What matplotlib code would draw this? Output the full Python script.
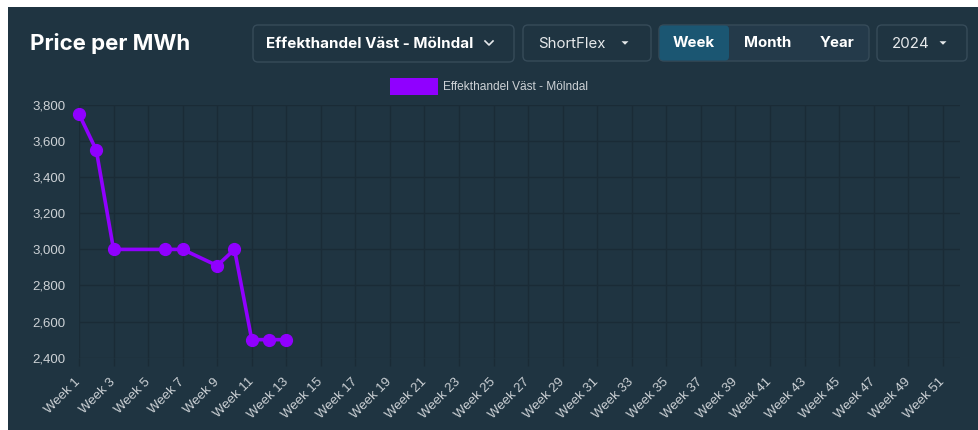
import numpy as np
import matplotlib
matplotlib.use("Agg")
import matplotlib.pyplot as plt
from matplotlib.patches import FancyBboxPatch, Rectangle, Polygon
from matplotlib.lines import Line2D

# ---- data ----
weeks = [f"Week {i}" for i in range(1, 53)]
data_weeks = [1, 2, 3, 6, 7, 9, 10, 11, 12, 13]
prices = [3750, 3550, 3000, 3000, 3000, 2910, 3000, 2500, 2500, 2500]
series_name = "Effekthandel Väst - Mölndal"
y_ticks = [2400, 2600, 2800, 3000, 3200, 3400, 3600, 3800]
title = "Price per MWh"
dropdown_site = "Effekthandel Väst - Mölndal"
dropdown_product = "ShortFlex"
periods = ["Week", "Month", "Year"]
year_label = "2024"

W, H = 979, 430
BG = "#1f3441"
GRID = "#1a2b36"
TXT = "#cdd2d6"
PURPLE = "#9000ff"

fig = plt.figure(figsize=(W / 100, H / 100), dpi=100)
fig.patch.set_facecolor("white")


def fx(x):
    return x / W


def fy(y):
    return 1 - y / H


# dark panel
fig.patches.append(Rectangle((fx(8), 0), 1 - fx(8), fy(7), transform=fig.transFigure,
                             facecolor=BG, edgecolor="none", zorder=-5))


def box(x0, y0, x1, y1, fc, ec, r=5):
    p = FancyBboxPatch((fx(x0), fy(y1)), fx(x1 - x0), fy(y0) - fy(y1),
                       boxstyle=f"round,pad=0,rounding_size={r / W}",
                       transform=fig.transFigure, facecolor=fc, edgecolor=ec,
                       linewidth=1, zorder=1, mutation_aspect=W / H)
    fig.patches.append(p)


def caret(cx, cy, s=3.5):
    pts = [(fx(cx - s), fy(cy - s / 2)), (fx(cx + s), fy(cy - s / 2)), (fx(cx), fy(cy + s / 2))]
    fig.patches.append(Polygon(pts, closed=True, transform=fig.transFigure,
                               facecolor="#e6e9eb", edgecolor="none", zorder=3))


def chevron(cx, cy, s=4):
    fig.lines.append(Line2D([fx(cx - s), fx(cx), fx(cx + s)],
                            [fy(cy - s / 2), fy(cy + s / 2), fy(cy - s / 2)],
                            transform=fig.transFigure, color="#e6e9eb", lw=1.2, zorder=3))


FONT = ["Inter", "DejaVu Sans"]
# title
fig.text(fx(30), fy(44), title, fontsize=16, fontweight="bold", color="white",
         ha="left", va="center", family=FONT)

# dropdown 1
box(253, 25, 514, 62, BG, "#364b59")
fig.text(fx(266), fy(44), dropdown_site, fontsize=10.9, fontweight="bold", color="white",
         ha="left", va="center", family=FONT)
chevron(489, 43)

# dropdown 2
box(523, 25, 651, 61, BG, "#364b59")
fig.text(fx(538), fy(44), dropdown_product, fontsize=10.8, color="#e6e9eb",
         ha="left", va="center", family=FONT)
caret(625, 43)

# period group
box(659, 25, 869, 61, "#243a4a", "#364b59")
fig.patches.append(FancyBboxPatch((fx(659.5), fy(60.5)), fx(729 - 659.5), fy(25.5) - fy(60.5),
                                  boxstyle=f"round,pad=0,rounding_size={4 / W}",
                                  transform=fig.transFigure, facecolor="#1b5672",
                                  edgecolor="none", zorder=2, mutation_aspect=W / H))
for lab, cx in zip(periods, [694, 768, 837]):
    fig.text(fx(cx), fy(43), lab, fontsize=10.8, fontweight="bold", color="white",
             ha="center", va="center", family=FONT, zorder=4)

# year dropdown
box(877, 25, 967, 61, BG, "#364b59")
fig.text(fx(892), fy(44), year_label, fontsize=10.8, color="#e6e9eb",
         ha="left", va="center", family=FONT)
caret(943, 43)

# legend
fig.patches.append(Rectangle((fx(390), fy(95)), fx(48), fy(78) - fy(95), transform=fig.transFigure,
                             facecolor=PURPLE, edgecolor="none", zorder=3))
fig.text(fx(443), fy(86.5), series_name, fontsize=8.6, color=TXT, ha="left", va="center",
         family=["Liberation Sans", "DejaVu Sans"])

# axes
ax = fig.add_axes([fx(79), fy(357.7), fx(960 - 79), fy(105) - fy(357.7)])
ax.set_zorder(5)
ax.patch.set_alpha(0)
idx = [w - 1 for w in data_weeks]
ax.plot(idx, prices, color=PURPLE, lw=2.6, marker="o", markersize=8.5,
        markerfacecolor=PURPLE, markeredgecolor=PURPLE, zorder=5, clip_on=False)
ax.set_xlim(0, 51)
ax.set_ylim(2400, 3800)
ax.set_yticks(y_ticks)
ax.set_yticklabels([f"{v:,}" for v in y_ticks])
ax.set_xticks(range(0, 52, 2))
ax.set_xticklabels(weeks[0::2], rotation=45, ha="right", va="center", rotation_mode="anchor")
ax.grid(True, color=GRID, lw=1)
for s in ax.spines.values():
    s.set_visible(False)
ax.tick_params(axis="x", colors=GRID, labelcolor=TXT, length=6, width=1, pad=10)
ax.tick_params(axis="y", colors=GRID, labelcolor=TXT, length=0, pad=10)
for lab in ax.get_xticklabels() + ax.get_yticklabels():
    lab.set_family(["Liberation Sans", "DejaVu Sans"])
    lab.set_fontsize(9.5)

fig.savefig("out.png", dpi=100, facecolor=fig.get_facecolor())
